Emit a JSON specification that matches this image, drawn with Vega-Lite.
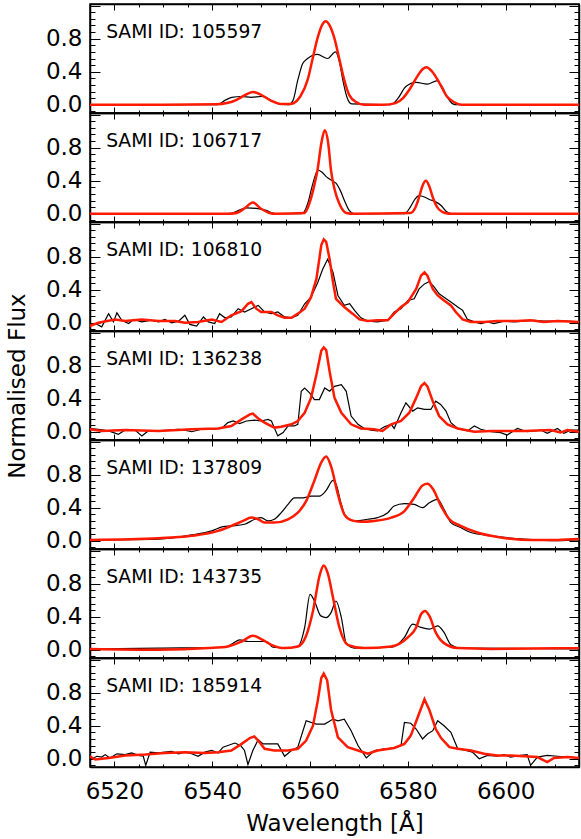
{
"$schema": "https://vega.github.io/schema/vega-lite/v6.json",
"padding": {"left": 5, "top": 2, "right": 1, "bottom": 0},
"background": "white",
"spacing": 0,
"bounds": "flush",
"config": {
 "font": "DejaVu Sans",
 "view": {"stroke": "black", "strokeWidth": 1.5},
 "concat": {"spacing": 0},
 "axis": {"labelFont": "DejaVu Sans", "labelFontSize": 23, "labelColor": "black", "tickColor": "black", "tickWidth": 1, "titleFont": "DejaVu Sans", "titleFontSize": 23, "titleFontWeight": "normal", "titleColor": "black", "grid": false, "domain": true, "domainColor": "black", "domainWidth": 1.5, "labelOverlap": false, "labelFlush": false}
},
"datasets": {
 "p1k": [{"w":6515,"v":0},{"w":6541,"v":0},{"w":6542.5,"v":0.05},{"w":6544,"v":0.09},{"w":6546,"v":0.1},{"w":6548,"v":0.09},{"w":6550,"v":0.1},{"w":6551,"v":0.09},{"w":6552,"v":0.05},{"w":6553.5,"v":0.01},{"w":6555.5,"v":0},{"w":6556.5,"v":0.05},{"w":6557.5,"v":0.3},{"w":6558.5,"v":0.5},{"w":6559.5,"v":0.56},{"w":6561.5,"v":0.61},{"w":6563.6,"v":0.56},{"w":6565.2,"v":0.64},{"w":6566,"v":0.52},{"w":6566.7,"v":0.3},{"w":6567.5,"v":0.1},{"w":6568.5,"v":0.01},{"w":6576.5,"v":0},{"w":6578,"v":0.08},{"w":6579.6,"v":0.22},{"w":6581.7,"v":0.27},{"w":6584,"v":0.25},{"w":6585.9,"v":0.29},{"w":6587,"v":0.22},{"w":6588,"v":0.1},{"w":6589.2,"v":0.01},{"w":6590,"v":0},{"w":6615,"v":0}],
 "p1r": [{"w":6515,"v":0},{"w":6530,"v":0},{"w":6541,"v":0.005},{"w":6543,"v":0.02},{"w":6545,"v":0.06},{"w":6546.5,"v":0.11},{"w":6548.3,"v":0.155},{"w":6550,"v":0.12},{"w":6552,"v":0.05},{"w":6554,"v":0.01},{"w":6556,"v":0.01},{"w":6558,"v":0.1},{"w":6559.5,"v":0.3},{"w":6560.5,"v":0.55},{"w":6561.5,"v":0.8},{"w":6562.5,"v":0.97},{"w":6563.2,"v":1.01},{"w":6564,"v":0.96},{"w":6565,"v":0.8},{"w":6566,"v":0.55},{"w":6567,"v":0.3},{"w":6568,"v":0.12},{"w":6569.5,"v":0.03},{"w":6571,"v":0},{"w":6575,"v":0},{"w":6577.5,"v":0.02},{"w":6579,"v":0.08},{"w":6580.5,"v":0.2},{"w":6582,"v":0.35},{"w":6583,"v":0.43},{"w":6583.8,"v":0.455},{"w":6585,"v":0.4},{"w":6586.5,"v":0.26},{"w":6588,"v":0.1},{"w":6589.5,"v":0.03},{"w":6591,"v":0},{"w":6615,"v":0}],
 "p2k": [{"w":6515,"v":0},{"w":6543.5,"v":0},{"w":6545,"v":0.03},{"w":6547,"v":0.07},{"w":6549,"v":0.065},{"w":6551,"v":0.04},{"w":6553,"v":0},{"w":6558.3,"v":0},{"w":6559.5,"v":0.12},{"w":6560.5,"v":0.35},{"w":6561.6,"v":0.53},{"w":6562.5,"v":0.5},{"w":6563.5,"v":0.44},{"w":6564.5,"v":0.4},{"w":6565.3,"v":0.37},{"w":6566.2,"v":0.28},{"w":6567.1,"v":0.15},{"w":6568,"v":0.04},{"w":6569,"v":0},{"w":6579.3,"v":0},{"w":6580.5,"v":0.08},{"w":6581.5,"v":0.18},{"w":6582.3,"v":0.22},{"w":6583.5,"v":0.2},{"w":6584.5,"v":0.17},{"w":6585.5,"v":0.15},{"w":6586.8,"v":0.1},{"w":6587.8,"v":0.03},{"w":6589,"v":0},{"w":6615,"v":0}],
 "p2r": [{"w":6515,"v":0},{"w":6543,"v":0},{"w":6545,"v":0.01},{"w":6546.5,"v":0.06},{"w":6548.3,"v":0.135},{"w":6550,"v":0.06},{"w":6551.7,"v":0.01},{"w":6553,"v":0},{"w":6558.9,"v":0.01},{"w":6560,"v":0.15},{"w":6561,"v":0.38},{"w":6561.5,"v":0.52},{"w":6562.3,"v":0.85},{"w":6563,"v":1.01},{"w":6563.7,"v":0.86},{"w":6564.3,"v":0.52},{"w":6565,"v":0.3},{"w":6566,"v":0.12},{"w":6567.4,"v":0.01},{"w":6569,"v":0},{"w":6580.5,"v":0.01},{"w":6581.5,"v":0.07},{"w":6582.3,"v":0.2},{"w":6583,"v":0.34},{"w":6583.7,"v":0.4},{"w":6584.4,"v":0.33},{"w":6585.1,"v":0.2},{"w":6586,"v":0.08},{"w":6587.6,"v":0.01},{"w":6589,"v":0},{"w":6615,"v":0}],
 "p3k": [{"w":6514.9,"v":-0.01},{"w":6516.1,"v":-0.01},{"w":6517.4,"v":-0.05},{"w":6518.8,"v":0.11},{"w":6519.8,"v":0.01},{"w":6520.5,"v":0.12},{"w":6521.5,"v":0.03},{"w":6522.9,"v":-0.01},{"w":6523.9,"v":0.04},{"w":6525.6,"v":0.01},{"w":6527.6,"v":0.03},{"w":6529,"v":0.01},{"w":6530.3,"v":0.04},{"w":6531.7,"v":0},{"w":6533.1,"v":0.02},{"w":6534.4,"v":0.09},{"w":6535.4,"v":-0.02},{"w":6536.8,"v":-0.04},{"w":6538.2,"v":0.07},{"w":6539.2,"v":0.01},{"w":6540.5,"v":-0.01},{"w":6541.5,"v":0.11},{"w":6542.6,"v":0.06},{"w":6543.9,"v":0.07},{"w":6545.3,"v":0.17},{"w":6546.6,"v":0.13},{"w":6548,"v":0.17},{"w":6549.4,"v":0.21},{"w":6550.7,"v":0.13},{"w":6552.1,"v":0.11},{"w":6553.4,"v":0.13},{"w":6554.8,"v":0.07},{"w":6556.2,"v":0.06},{"w":6557.5,"v":0.09},{"w":6558.9,"v":0.23},{"w":6560.2,"v":0.31},{"w":6561.6,"v":0.49},{"w":6562.6,"v":0.65},{"w":6563.6,"v":0.77},{"w":6564.7,"v":0.61},{"w":6565.7,"v":0.33},{"w":6567,"v":0.21},{"w":6568.1,"v":0.23},{"w":6569.1,"v":0.15},{"w":6570.4,"v":0.06},{"w":6571.8,"v":0.02},{"w":6573.8,"v":0.01},{"w":6575.9,"v":0.03},{"w":6577.2,"v":0.13},{"w":6578.6,"v":0.17},{"w":6580,"v":0.27},{"w":6581.3,"v":0.29},{"w":6582.3,"v":0.41},{"w":6583.4,"v":0.47},{"w":6584.4,"v":0.5},{"w":6585.4,"v":0.43},{"w":6586.4,"v":0.35},{"w":6587.4,"v":0.31},{"w":6588.8,"v":0.25},{"w":6590.2,"v":0.19},{"w":6591.2,"v":0.15},{"w":6592.2,"v":0.04},{"w":6593.6,"v":0.01},{"w":6594.9,"v":-0.01},{"w":6596.3,"v":0.01},{"w":6597.6,"v":-0.01},{"w":6599.7,"v":0.02},{"w":6601.7,"v":0.01},{"w":6603.8,"v":0.02},{"w":6605.8,"v":0.03},{"w":6607.8,"v":0.02},{"w":6610.6,"v":0.02},{"w":6612.6,"v":0.02},{"w":6615,"v":0.01}],
 "p3r": [{"w":6514.9,"v":-0.04},{"w":6516.7,"v":0},{"w":6520.1,"v":0.04},{"w":6522.2,"v":0.02},{"w":6525.6,"v":0.04},{"w":6529,"v":0.02},{"w":6532.4,"v":0.02},{"w":6534.4,"v":0},{"w":6537.1,"v":0.01},{"w":6539.9,"v":0.04},{"w":6541.9,"v":0.01},{"w":6543.9,"v":0.09},{"w":6546,"v":0.14},{"w":6547.3,"v":0.23},{"w":6548,"v":0.25},{"w":6549,"v":0.17},{"w":6550,"v":0.13},{"w":6552.1,"v":0.13},{"w":6553.4,"v":0.09},{"w":6554.8,"v":0.06},{"w":6556.2,"v":0.06},{"w":6557.5,"v":0.11},{"w":6558.9,"v":0.17},{"w":6560.2,"v":0.31},{"w":6561.3,"v":0.53},{"w":6562.3,"v":0.94},{"w":6562.8,"v":1.01},{"w":6563.3,"v":0.98},{"w":6564,"v":0.77},{"w":6564.7,"v":0.49},{"w":6565.3,"v":0.29},{"w":6567,"v":0.19},{"w":6568.7,"v":0.11},{"w":6570.1,"v":0.04},{"w":6571.8,"v":0.02},{"w":6573.8,"v":0.03},{"w":6575.9,"v":0.03},{"w":6577.2,"v":0.11},{"w":6578.6,"v":0.19},{"w":6580,"v":0.25},{"w":6581.7,"v":0.41},{"w":6582.7,"v":0.57},{"w":6583.4,"v":0.61},{"w":6584,"v":0.57},{"w":6585.1,"v":0.41},{"w":6586.1,"v":0.33},{"w":6587.4,"v":0.27},{"w":6588.8,"v":0.21},{"w":6589.8,"v":0.13},{"w":6591.2,"v":0.04},{"w":6592.9,"v":0.01},{"w":6595.6,"v":0.01},{"w":6598.3,"v":0.02},{"w":6602.4,"v":0.02},{"w":6605.1,"v":0.03},{"w":6607.8,"v":0.01},{"w":6610.6,"v":0.02},{"w":6615,"v":0.01}],
 "p4k": [{"w":6514.9,"v":0.04},{"w":6516.7,"v":0.03},{"w":6518.8,"v":0.01},{"w":6520.8,"v":-0.03},{"w":6522.2,"v":0.02},{"w":6524.2,"v":0.02},{"w":6525.6,"v":-0.05},{"w":6526.9,"v":0.01},{"w":6529,"v":0.01},{"w":6531,"v":0.02},{"w":6533.1,"v":0.03},{"w":6534.4,"v":0.02},{"w":6535.8,"v":0},{"w":6537.8,"v":0.03},{"w":6539.9,"v":0.03},{"w":6541.9,"v":0.04},{"w":6543.2,"v":0.11},{"w":6544.3,"v":0.13},{"w":6545.6,"v":0.1},{"w":6547,"v":0.13},{"w":6548.7,"v":0.14},{"w":6550,"v":0.13},{"w":6551.4,"v":0.15},{"w":6552.1,"v":0.13},{"w":6553.4,"v":-0.05},{"w":6554.5,"v":-0.01},{"w":6555.5,"v":0.07},{"w":6556.8,"v":0.07},{"w":6557.5,"v":0.09},{"w":6558.2,"v":0.49},{"w":6558.9,"v":0.53},{"w":6559.9,"v":0.47},{"w":6560.9,"v":0.39},{"w":6561.9,"v":0.39},{"w":6563,"v":0.53},{"w":6564,"v":0.49},{"w":6565,"v":0.55},{"w":6566.4,"v":0.57},{"w":6567.4,"v":0.49},{"w":6568.4,"v":0.19},{"w":6569.8,"v":0.09},{"w":6571.1,"v":0.04},{"w":6572.5,"v":0.02},{"w":6573.8,"v":0.01},{"w":6575.2,"v":0.06},{"w":6576.6,"v":0.09},{"w":6577.2,"v":0.04},{"w":6578.6,"v":0.23},{"w":6579.6,"v":0.35},{"w":6581,"v":0.25},{"w":6582,"v":0.29},{"w":6583.4,"v":0.27},{"w":6584.7,"v":0.27},{"w":6585.7,"v":0.37},{"w":6586.7,"v":0.33},{"w":6587.8,"v":0.25},{"w":6588.8,"v":0.11},{"w":6590.2,"v":0.04},{"w":6592.2,"v":0.01},{"w":6593.6,"v":0.07},{"w":6594.9,"v":0.03},{"w":6597,"v":0},{"w":6599,"v":-0.01},{"w":6600.3,"v":-0.04},{"w":6602.4,"v":0.04},{"w":6604.4,"v":0},{"w":6607.2,"v":0.02},{"w":6608.5,"v":-0.02},{"w":6610.6,"v":0.04},{"w":6611.9,"v":-0.02},{"w":6613.3,"v":0.02},{"w":6615,"v":0.02}],
 "p4r": [{"w":6514.9,"v":0.03},{"w":6517.4,"v":0.01},{"w":6522.2,"v":0.02},{"w":6529,"v":0.01},{"w":6535.8,"v":0.03},{"w":6541.2,"v":0.04},{"w":6543.9,"v":0.07},{"w":6546,"v":0.15},{"w":6547.7,"v":0.21},{"w":6548.3,"v":0.22},{"w":6549.4,"v":0.16},{"w":6550.7,"v":0.11},{"w":6552.7,"v":0.05},{"w":6554.1,"v":0.06},{"w":6556.2,"v":0.09},{"w":6557.5,"v":0.13},{"w":6558.9,"v":0.23},{"w":6560.2,"v":0.41},{"w":6561.3,"v":0.69},{"w":6562.3,"v":0.98},{"w":6562.8,"v":1.02},{"w":6563.3,"v":0.99},{"w":6564,"v":0.73},{"w":6565,"v":0.41},{"w":6566.4,"v":0.23},{"w":6568.4,"v":0.09},{"w":6570.4,"v":0.04},{"w":6573.1,"v":0.03},{"w":6574.8,"v":0.01},{"w":6576.6,"v":0.09},{"w":6578.6,"v":0.13},{"w":6580.3,"v":0.23},{"w":6581.7,"v":0.41},{"w":6582.7,"v":0.55},{"w":6583.4,"v":0.59},{"w":6584,"v":0.55},{"w":6585.1,"v":0.37},{"w":6586.4,"v":0.19},{"w":6588.1,"v":0.09},{"w":6590.2,"v":0.04},{"w":6593.6,"v":0},{"w":6597,"v":0.01},{"w":6603.8,"v":0.01},{"w":6609.2,"v":0.02},{"w":6611.2,"v":-0.01},{"w":6612.6,"v":0.02},{"w":6615,"v":0}],
 "p5k": [{"w":6515,"v":0.01},{"w":6529,"v":0.02},{"w":6535.8,"v":0.07},{"w":6539.9,"v":0.12},{"w":6542.2,"v":0.17},{"w":6543.9,"v":0.18},{"w":6546.6,"v":0.2},{"w":6548.7,"v":0.26},{"w":6550,"v":0.28},{"w":6551.4,"v":0.24},{"w":6552.7,"v":0.26},{"w":6554.1,"v":0.34},{"w":6555.5,"v":0.44},{"w":6556.8,"v":0.52},{"w":6558.5,"v":0.52},{"w":6560.2,"v":0.54},{"w":6561.9,"v":0.54},{"w":6563.3,"v":0.61},{"w":6564.7,"v":0.73},{"w":6565.3,"v":0.69},{"w":6566.4,"v":0.44},{"w":6567.4,"v":0.28},{"w":6569.1,"v":0.24},{"w":6571.8,"v":0.26},{"w":6573.8,"v":0.28},{"w":6575.9,"v":0.34},{"w":6577.2,"v":0.42},{"w":6579.3,"v":0.45},{"w":6581.3,"v":0.44},{"w":6583,"v":0.4},{"w":6584.4,"v":0.46},{"w":6586.1,"v":0.5},{"w":6587.4,"v":0.38},{"w":6588.8,"v":0.22},{"w":6590.8,"v":0.16},{"w":6592.9,"v":0.1},{"w":6597,"v":0.06},{"w":6603.8,"v":0.02},{"w":6610.6,"v":0},{"w":6615,"v":0.01}],
 "p5r": [{"w":6515,"v":0.01},{"w":6529,"v":0.03},{"w":6535.8,"v":0.06},{"w":6541.2,"v":0.12},{"w":6543.9,"v":0.18},{"w":6546.3,"v":0.24},{"w":6548,"v":0.28},{"w":6549.4,"v":0.26},{"w":6550.7,"v":0.22},{"w":6552.7,"v":0.22},{"w":6555.5,"v":0.26},{"w":6557.5,"v":0.34},{"w":6559.2,"v":0.48},{"w":6560.9,"v":0.73},{"w":6562.3,"v":0.95},{"w":6563.3,"v":1.02},{"w":6564.3,"v":0.9},{"w":6565.7,"v":0.56},{"w":6567,"v":0.32},{"w":6568.4,"v":0.25},{"w":6570.4,"v":0.23},{"w":6573.1,"v":0.24},{"w":6576.6,"v":0.28},{"w":6579.3,"v":0.36},{"w":6581.3,"v":0.52},{"w":6583,"v":0.67},{"w":6584,"v":0.69},{"w":6585.1,"v":0.63},{"w":6586.8,"v":0.42},{"w":6588.5,"v":0.26},{"w":6590.8,"v":0.18},{"w":6594.2,"v":0.1},{"w":6599,"v":0.04},{"w":6605.8,"v":0.01},{"w":6610.6,"v":0.01},{"w":6615,"v":0.02}],
 "p6k": [{"w":6515,"v":0.01},{"w":6529,"v":0.02},{"w":6542.6,"v":0.03},{"w":6544.3,"v":0.08},{"w":6545.6,"v":0.12},{"w":6547.3,"v":0.1},{"w":6549.4,"v":0.1},{"w":6551.1,"v":0.1},{"w":6552.4,"v":0.03},{"w":6554.8,"v":0.02},{"w":6557.5,"v":0.04},{"w":6558.9,"v":0.27},{"w":6560,"v":0.67},{"w":6560.9,"v":0.59},{"w":6562.2,"v":0.41},{"w":6563.3,"v":0.39},{"w":6564.3,"v":0.45},{"w":6565.3,"v":0.59},{"w":6566.4,"v":0.39},{"w":6567.4,"v":0.08},{"w":6569.1,"v":0.02},{"w":6576.6,"v":0.03},{"w":6579.3,"v":0.15},{"w":6581,"v":0.31},{"w":6582.7,"v":0.27},{"w":6584.4,"v":0.25},{"w":6586.1,"v":0.29},{"w":6587.4,"v":0.21},{"w":6588.8,"v":0.06},{"w":6590.8,"v":0.02},{"w":6615,"v":0.01}],
 "p6r": [{"w":6515,"v":0.01},{"w":6529,"v":0},{"w":6539.2,"v":0.02},{"w":6543.2,"v":0.04},{"w":6546,"v":0.1},{"w":6548.3,"v":0.17},{"w":6550,"v":0.13},{"w":6552.1,"v":0.06},{"w":6554.8,"v":0.02},{"w":6557.5,"v":0.04},{"w":6559.2,"v":0.17},{"w":6560.6,"v":0.47},{"w":6562,"v":0.91},{"w":6562.8,"v":1.02},{"w":6563.6,"v":0.93},{"w":6564.7,"v":0.63},{"w":6566,"v":0.27},{"w":6567.7,"v":0.06},{"w":6571.1,"v":0.02},{"w":6576.6,"v":0.04},{"w":6580,"v":0.15},{"w":6581.7,"v":0.27},{"w":6582.7,"v":0.43},{"w":6583.5,"v":0.47},{"w":6584.4,"v":0.41},{"w":6585.7,"v":0.21},{"w":6587.4,"v":0.08},{"w":6590.2,"v":0.02},{"w":6597,"v":0.01},{"w":6615,"v":0.02}],
 "p7k": [{"w":6514.9,"v":0.04},{"w":6515.4,"v":0},{"w":6516.4,"v":0.03},{"w":6517.4,"v":0.02},{"w":6518.1,"v":0.05},{"w":6519.1,"v":0.01},{"w":6520.5,"v":0.06},{"w":6522.2,"v":0.05},{"w":6523.5,"v":0.07},{"w":6524.9,"v":0.04},{"w":6525.9,"v":0.03},{"w":6526.4,"v":-0.08},{"w":6527.3,"v":0.08},{"w":6529,"v":0.07},{"w":6530.3,"v":0.08},{"w":6531.7,"v":0.09},{"w":6533.1,"v":0.06},{"w":6534.4,"v":0.08},{"w":6535.8,"v":0.06},{"w":6537.1,"v":0.03},{"w":6538.5,"v":0.08},{"w":6539.9,"v":0.1},{"w":6541.2,"v":0.07},{"w":6542.2,"v":0.14},{"w":6543.2,"v":0.16},{"w":6544.6,"v":0.19},{"w":6545.8,"v":0.16},{"w":6546.6,"v":0.1},{"w":6547.3,"v":-0.07},{"w":6548.3,"v":0.1},{"w":6549.4,"v":0.23},{"w":6550.4,"v":0.18},{"w":6552.1,"v":0.18},{"w":6553.4,"v":0.18},{"w":6554.8,"v":0.03},{"w":6556.2,"v":0.1},{"w":6557.5,"v":0.14},{"w":6559.2,"v":0.46},{"w":6560.2,"v":0.44},{"w":6561.3,"v":0.42},{"w":6563,"v":0.42},{"w":6564.7,"v":0.48},{"w":6565.7,"v":0.46},{"w":6567,"v":0.48},{"w":6568.4,"v":0.34},{"w":6569.8,"v":0.16},{"w":6571.5,"v":0.01},{"w":6573.2,"v":0.1},{"w":6575.2,"v":0.12},{"w":6577.2,"v":0.13},{"w":6578.6,"v":0.16},{"w":6579.3,"v":0.44},{"w":6580.6,"v":0.43},{"w":6581.7,"v":0.36},{"w":6583,"v":0.24},{"w":6584,"v":0.3},{"w":6585.1,"v":0.34},{"w":6586.1,"v":0.46},{"w":6587.4,"v":0.4},{"w":6588.8,"v":0.32},{"w":6590.2,"v":0.12},{"w":6591.9,"v":0.1},{"w":6593.2,"v":0.08},{"w":6594.6,"v":0},{"w":6596.3,"v":0.04},{"w":6598.3,"v":0.03},{"w":6599.7,"v":0.05},{"w":6601,"v":0.02},{"w":6603.1,"v":0.04},{"w":6604.4,"v":0.05},{"w":6605.1,"v":-0.08},{"w":6606.5,"v":0.02},{"w":6608.5,"v":0.04},{"w":6610.6,"v":0.03},{"w":6612.6,"v":0.02},{"w":6615,"v":0.01}],
 "p7r": [{"w":6514.9,"v":0.03},{"w":6516.1,"v":-0.01},{"w":6518.8,"v":0.01},{"w":6522.2,"v":0.04},{"w":6526.3,"v":0.05},{"w":6530.3,"v":0.07},{"w":6534.4,"v":0.08},{"w":6538.5,"v":0.07},{"w":6541.2,"v":0.08},{"w":6543.9,"v":0.1},{"w":6546,"v":0.18},{"w":6547.7,"v":0.25},{"w":6548.6,"v":0.27},{"w":6549.4,"v":0.22},{"w":6550.7,"v":0.12},{"w":6552.7,"v":0.1},{"w":6555.5,"v":0.1},{"w":6557.5,"v":0.12},{"w":6559.2,"v":0.22},{"w":6560.6,"v":0.4},{"w":6561.6,"v":0.71},{"w":6562.3,"v":0.98},{"w":6562.8,"v":1.03},{"w":6563.5,"v":0.95},{"w":6564.3,"v":0.59},{"w":6565.7,"v":0.26},{"w":6567.7,"v":0.14},{"w":6569.8,"v":0.1},{"w":6571.8,"v":0.06},{"w":6573.8,"v":0.1},{"w":6577.2,"v":0.13},{"w":6579.3,"v":0.18},{"w":6580.6,"v":0.28},{"w":6582,"v":0.5},{"w":6583.4,"v":0.72},{"w":6584.4,"v":0.59},{"w":6585.7,"v":0.36},{"w":6586.8,"v":0.25},{"w":6588.5,"v":0.14},{"w":6590.2,"v":0.12},{"w":6592.9,"v":0.1},{"w":6595.6,"v":0.06},{"w":6598.3,"v":0.04},{"w":6601,"v":0.04},{"w":6603.8,"v":0.03},{"w":6606.5,"v":0.02},{"w":6608.5,"v":-0.04},{"w":6609.9,"v":0.01},{"w":6612.6,"v":0.02},{"w":6615,"v":0.01}]
},
"vconcat": [
 {"height": 109, "width": 489, "resolve": {"axis": {"x": "independent", "y": "independent"}}, "layer": [
  {"data": {"name": "p1k"}, "mark": {"type": "line", "color": "black", "strokeWidth": 1.2, "interpolate": "monotone", "clip": true}, "encoding": {
   "x": {"field": "w", "type": "quantitative", "scale": {"domain": [6515, 6615], "nice": false, "zero": false}, "axis": {"orient": "bottom", "values": [6515,6520,6525,6530,6535,6540,6545,6550,6555,6560,6565,6570,6575,6580,6585,6590,6595,6600,6605,6610,6615], "tickSize": {"condition": {"test": "datum.value % 20 === 0", "value": -6}, "value": -3}, "labels": false, "title": null}},
   "y": {"field": "v", "type": "quantitative", "scale": {"domain": [-0.1, 1.22], "nice": false, "zero": false}, "axis": {"orient": "left", "values": [-0.08,0,0.08,0.16,0.24,0.32,0.4,0.48,0.56,0.64,0.72,0.8,0.88,0.96,1.04,1.12,1.2], "tickSize": {"condition": {"test": "abs(datum.value*2.5 - round(datum.value*2.5)) < 0.01", "value": -10}, "value": -5}, "labelExpr": "abs(datum.value*2.5 - round(datum.value*2.5)) < 0.01 && datum.value < 1 ? format(datum.value, '.1f') : ''", "labelFontSize": {"condition": {"test": "abs(datum.value*2.5 - round(datum.value*2.5)) < 0.01 && datum.value < 1", "value": 23}, "value": 1}, "labelPadding": 18, "title": null}}}},
  {"data": {"name": "p1r"}, "mark": {"type": "line", "color": "#ff1a00", "strokeWidth": 2.5, "interpolate": "monotone", "clip": true}, "encoding": {
   "x": {"field": "w", "type": "quantitative", "axis": {"orient": "top", "values": [6515,6520,6525,6530,6535,6540,6545,6550,6555,6560,6565,6570,6575,6580,6585,6590,6595,6600,6605,6610,6615], "tickSize": {"condition": {"test": "datum.value % 20 === 0", "value": -6}, "value": -3}, "labels": false, "title": null}},
   "y": {"field": "v", "type": "quantitative", "axis": {"orient": "right", "values": [-0.08,0,0.08,0.16,0.24,0.32,0.4,0.48,0.56,0.64,0.72,0.8,0.88,0.96,1.04,1.12,1.2], "tickSize": {"condition": {"test": "abs(datum.value*2.5 - round(datum.value*2.5)) < 0.01", "value": -10}, "value": -5}, "labels": false, "title": null}}}},
  {"data": {"values": [{"id": "SAMI ID: 105597"}]}, "mark": {"type": "text", "align": "left", "baseline": "middle", "fontSize": 18.7, "color": "black"}, "encoding": {"x": {"datum": 6518.3, "type": "quantitative", "axis": null}, "y": {"datum": 0.88, "type": "quantitative", "axis": null}, "text": {"field": "id"}}}
 ]},
 {"height": 109, "width": 489, "resolve": {"axis": {"x": "independent", "y": "independent"}}, "layer": [
  {"data": {"name": "p2k"}, "mark": {"type": "line", "color": "black", "strokeWidth": 1.2, "interpolate": "monotone", "clip": true}, "encoding": {
   "x": {"field": "w", "type": "quantitative", "scale": {"domain": [6515, 6615], "nice": false, "zero": false}, "axis": {"orient": "bottom", "values": [6515,6520,6525,6530,6535,6540,6545,6550,6555,6560,6565,6570,6575,6580,6585,6590,6595,6600,6605,6610,6615], "tickSize": {"condition": {"test": "datum.value % 20 === 0", "value": -6}, "value": -3}, "labels": false, "title": null}},
   "y": {"field": "v", "type": "quantitative", "scale": {"domain": [-0.1, 1.22], "nice": false, "zero": false}, "axis": {"orient": "left", "values": [-0.08,0,0.08,0.16,0.24,0.32,0.4,0.48,0.56,0.64,0.72,0.8,0.88,0.96,1.04,1.12,1.2], "tickSize": {"condition": {"test": "abs(datum.value*2.5 - round(datum.value*2.5)) < 0.01", "value": -10}, "value": -5}, "labelExpr": "abs(datum.value*2.5 - round(datum.value*2.5)) < 0.01 && datum.value < 1 ? format(datum.value, '.1f') : ''", "labelFontSize": {"condition": {"test": "abs(datum.value*2.5 - round(datum.value*2.5)) < 0.01 && datum.value < 1", "value": 23}, "value": 1}, "labelPadding": 18, "title": null}}}},
  {"data": {"name": "p2r"}, "mark": {"type": "line", "color": "#ff1a00", "strokeWidth": 2.5, "interpolate": "monotone", "clip": true}, "encoding": {
   "x": {"field": "w", "type": "quantitative", "axis": {"orient": "top", "values": [6515,6520,6525,6530,6535,6540,6545,6550,6555,6560,6565,6570,6575,6580,6585,6590,6595,6600,6605,6610,6615], "tickSize": {"condition": {"test": "datum.value % 20 === 0", "value": -6}, "value": -3}, "labels": false, "title": null}},
   "y": {"field": "v", "type": "quantitative", "axis": {"orient": "right", "values": [-0.08,0,0.08,0.16,0.24,0.32,0.4,0.48,0.56,0.64,0.72,0.8,0.88,0.96,1.04,1.12,1.2], "tickSize": {"condition": {"test": "abs(datum.value*2.5 - round(datum.value*2.5)) < 0.01", "value": -10}, "value": -5}, "labels": false, "title": null}}}},
  {"data": {"values": [{"id": "SAMI ID: 106717"}]}, "mark": {"type": "text", "align": "left", "baseline": "middle", "fontSize": 18.7, "color": "black"}, "encoding": {"x": {"datum": 6518.3, "type": "quantitative", "axis": null}, "y": {"datum": 0.88, "type": "quantitative", "axis": null}, "text": {"field": "id"}}}
 ]},
 {"height": 109, "width": 489, "resolve": {"axis": {"x": "independent", "y": "independent"}}, "layer": [
  {"data": {"name": "p3k"}, "mark": {"type": "line", "color": "black", "strokeWidth": 1.2, "clip": true}, "encoding": {
   "x": {"field": "w", "type": "quantitative", "scale": {"domain": [6515, 6615], "nice": false, "zero": false}, "axis": {"orient": "bottom", "values": [6515,6520,6525,6530,6535,6540,6545,6550,6555,6560,6565,6570,6575,6580,6585,6590,6595,6600,6605,6610,6615], "tickSize": {"condition": {"test": "datum.value % 20 === 0", "value": -6}, "value": -3}, "labels": false, "title": null}},
   "y": {"field": "v", "type": "quantitative", "scale": {"domain": [-0.1, 1.22], "nice": false, "zero": false}, "axis": {"orient": "left", "values": [-0.08,0,0.08,0.16,0.24,0.32,0.4,0.48,0.56,0.64,0.72,0.8,0.88,0.96,1.04,1.12,1.2], "tickSize": {"condition": {"test": "abs(datum.value*2.5 - round(datum.value*2.5)) < 0.01", "value": -10}, "value": -5}, "labelExpr": "abs(datum.value*2.5 - round(datum.value*2.5)) < 0.01 && datum.value < 1 ? format(datum.value, '.1f') : ''", "labelFontSize": {"condition": {"test": "abs(datum.value*2.5 - round(datum.value*2.5)) < 0.01 && datum.value < 1", "value": 23}, "value": 1}, "labelPadding": 18, "title": null}}}},
  {"data": {"name": "p3r"}, "mark": {"type": "line", "color": "#ff1a00", "strokeWidth": 2.5, "clip": true}, "encoding": {
   "x": {"field": "w", "type": "quantitative", "axis": {"orient": "top", "values": [6515,6520,6525,6530,6535,6540,6545,6550,6555,6560,6565,6570,6575,6580,6585,6590,6595,6600,6605,6610,6615], "tickSize": {"condition": {"test": "datum.value % 20 === 0", "value": -6}, "value": -3}, "labels": false, "title": null}},
   "y": {"field": "v", "type": "quantitative", "axis": {"orient": "right", "values": [-0.08,0,0.08,0.16,0.24,0.32,0.4,0.48,0.56,0.64,0.72,0.8,0.88,0.96,1.04,1.12,1.2], "tickSize": {"condition": {"test": "abs(datum.value*2.5 - round(datum.value*2.5)) < 0.01", "value": -10}, "value": -5}, "labels": false, "title": null}}}},
  {"data": {"values": [{"id": "SAMI ID: 106810"}]}, "mark": {"type": "text", "align": "left", "baseline": "middle", "fontSize": 18.7, "color": "black"}, "encoding": {"x": {"datum": 6518.3, "type": "quantitative", "axis": null}, "y": {"datum": 0.88, "type": "quantitative", "axis": null}, "text": {"field": "id"}}}
 ]},
 {"height": 109, "width": 489, "resolve": {"axis": {"x": "independent", "y": "independent"}}, "layer": [
  {"data": {"name": "p4k"}, "mark": {"type": "line", "color": "black", "strokeWidth": 1.2, "clip": true}, "encoding": {
   "x": {"field": "w", "type": "quantitative", "scale": {"domain": [6515, 6615], "nice": false, "zero": false}, "axis": {"orient": "bottom", "values": [6515,6520,6525,6530,6535,6540,6545,6550,6555,6560,6565,6570,6575,6580,6585,6590,6595,6600,6605,6610,6615], "tickSize": {"condition": {"test": "datum.value % 20 === 0", "value": -6}, "value": -3}, "labels": false, "title": null}},
   "y": {"field": "v", "type": "quantitative", "scale": {"domain": [-0.1, 1.22], "nice": false, "zero": false}, "axis": {"orient": "left", "values": [-0.08,0,0.08,0.16,0.24,0.32,0.4,0.48,0.56,0.64,0.72,0.8,0.88,0.96,1.04,1.12,1.2], "tickSize": {"condition": {"test": "abs(datum.value*2.5 - round(datum.value*2.5)) < 0.01", "value": -10}, "value": -5}, "labelExpr": "abs(datum.value*2.5 - round(datum.value*2.5)) < 0.01 && datum.value < 1 ? format(datum.value, '.1f') : ''", "labelFontSize": {"condition": {"test": "abs(datum.value*2.5 - round(datum.value*2.5)) < 0.01 && datum.value < 1", "value": 23}, "value": 1}, "labelPadding": 18, "title": "Normalised Flux", "titlePadding": 16}}}},
  {"data": {"name": "p4r"}, "mark": {"type": "line", "color": "#ff1a00", "strokeWidth": 2.5, "clip": true}, "encoding": {
   "x": {"field": "w", "type": "quantitative", "axis": {"orient": "top", "values": [6515,6520,6525,6530,6535,6540,6545,6550,6555,6560,6565,6570,6575,6580,6585,6590,6595,6600,6605,6610,6615], "tickSize": {"condition": {"test": "datum.value % 20 === 0", "value": -6}, "value": -3}, "labels": false, "title": null}},
   "y": {"field": "v", "type": "quantitative", "axis": {"orient": "right", "values": [-0.08,0,0.08,0.16,0.24,0.32,0.4,0.48,0.56,0.64,0.72,0.8,0.88,0.96,1.04,1.12,1.2], "tickSize": {"condition": {"test": "abs(datum.value*2.5 - round(datum.value*2.5)) < 0.01", "value": -10}, "value": -5}, "labels": false, "title": null}}}},
  {"data": {"values": [{"id": "SAMI ID: 136238"}]}, "mark": {"type": "text", "align": "left", "baseline": "middle", "fontSize": 18.7, "color": "black"}, "encoding": {"x": {"datum": 6518.3, "type": "quantitative", "axis": null}, "y": {"datum": 0.88, "type": "quantitative", "axis": null}, "text": {"field": "id"}}}
 ]},
 {"height": 109, "width": 489, "resolve": {"axis": {"x": "independent", "y": "independent"}}, "layer": [
  {"data": {"name": "p5k"}, "mark": {"type": "line", "color": "black", "strokeWidth": 1.2, "interpolate": "monotone", "clip": true}, "encoding": {
   "x": {"field": "w", "type": "quantitative", "scale": {"domain": [6515, 6615], "nice": false, "zero": false}, "axis": {"orient": "bottom", "values": [6515,6520,6525,6530,6535,6540,6545,6550,6555,6560,6565,6570,6575,6580,6585,6590,6595,6600,6605,6610,6615], "tickSize": {"condition": {"test": "datum.value % 20 === 0", "value": -6}, "value": -3}, "labels": false, "title": null}},
   "y": {"field": "v", "type": "quantitative", "scale": {"domain": [-0.1, 1.22], "nice": false, "zero": false}, "axis": {"orient": "left", "values": [-0.08,0,0.08,0.16,0.24,0.32,0.4,0.48,0.56,0.64,0.72,0.8,0.88,0.96,1.04,1.12,1.2], "tickSize": {"condition": {"test": "abs(datum.value*2.5 - round(datum.value*2.5)) < 0.01", "value": -10}, "value": -5}, "labelExpr": "abs(datum.value*2.5 - round(datum.value*2.5)) < 0.01 && datum.value < 1 ? format(datum.value, '.1f') : ''", "labelFontSize": {"condition": {"test": "abs(datum.value*2.5 - round(datum.value*2.5)) < 0.01 && datum.value < 1", "value": 23}, "value": 1}, "labelPadding": 18, "title": null}}}},
  {"data": {"name": "p5r"}, "mark": {"type": "line", "color": "#ff1a00", "strokeWidth": 2.5, "interpolate": "monotone", "clip": true}, "encoding": {
   "x": {"field": "w", "type": "quantitative", "axis": {"orient": "top", "values": [6515,6520,6525,6530,6535,6540,6545,6550,6555,6560,6565,6570,6575,6580,6585,6590,6595,6600,6605,6610,6615], "tickSize": {"condition": {"test": "datum.value % 20 === 0", "value": -6}, "value": -3}, "labels": false, "title": null}},
   "y": {"field": "v", "type": "quantitative", "axis": {"orient": "right", "values": [-0.08,0,0.08,0.16,0.24,0.32,0.4,0.48,0.56,0.64,0.72,0.8,0.88,0.96,1.04,1.12,1.2], "tickSize": {"condition": {"test": "abs(datum.value*2.5 - round(datum.value*2.5)) < 0.01", "value": -10}, "value": -5}, "labels": false, "title": null}}}},
  {"data": {"values": [{"id": "SAMI ID: 137809"}]}, "mark": {"type": "text", "align": "left", "baseline": "middle", "fontSize": 18.7, "color": "black"}, "encoding": {"x": {"datum": 6518.3, "type": "quantitative", "axis": null}, "y": {"datum": 0.88, "type": "quantitative", "axis": null}, "text": {"field": "id"}}}
 ]},
 {"height": 109, "width": 489, "resolve": {"axis": {"x": "independent", "y": "independent"}}, "layer": [
  {"data": {"name": "p6k"}, "mark": {"type": "line", "color": "black", "strokeWidth": 1.2, "interpolate": "monotone", "clip": true}, "encoding": {
   "x": {"field": "w", "type": "quantitative", "scale": {"domain": [6515, 6615], "nice": false, "zero": false}, "axis": {"orient": "bottom", "values": [6515,6520,6525,6530,6535,6540,6545,6550,6555,6560,6565,6570,6575,6580,6585,6590,6595,6600,6605,6610,6615], "tickSize": {"condition": {"test": "datum.value % 20 === 0", "value": -6}, "value": -3}, "labels": false, "title": null}},
   "y": {"field": "v", "type": "quantitative", "scale": {"domain": [-0.1, 1.22], "nice": false, "zero": false}, "axis": {"orient": "left", "values": [-0.08,0,0.08,0.16,0.24,0.32,0.4,0.48,0.56,0.64,0.72,0.8,0.88,0.96,1.04,1.12,1.2], "tickSize": {"condition": {"test": "abs(datum.value*2.5 - round(datum.value*2.5)) < 0.01", "value": -10}, "value": -5}, "labelExpr": "abs(datum.value*2.5 - round(datum.value*2.5)) < 0.01 && datum.value < 1 ? format(datum.value, '.1f') : ''", "labelFontSize": {"condition": {"test": "abs(datum.value*2.5 - round(datum.value*2.5)) < 0.01 && datum.value < 1", "value": 23}, "value": 1}, "labelPadding": 18, "title": null}}}},
  {"data": {"name": "p6r"}, "mark": {"type": "line", "color": "#ff1a00", "strokeWidth": 2.5, "interpolate": "monotone", "clip": true}, "encoding": {
   "x": {"field": "w", "type": "quantitative", "axis": {"orient": "top", "values": [6515,6520,6525,6530,6535,6540,6545,6550,6555,6560,6565,6570,6575,6580,6585,6590,6595,6600,6605,6610,6615], "tickSize": {"condition": {"test": "datum.value % 20 === 0", "value": -6}, "value": -3}, "labels": false, "title": null}},
   "y": {"field": "v", "type": "quantitative", "axis": {"orient": "right", "values": [-0.08,0,0.08,0.16,0.24,0.32,0.4,0.48,0.56,0.64,0.72,0.8,0.88,0.96,1.04,1.12,1.2], "tickSize": {"condition": {"test": "abs(datum.value*2.5 - round(datum.value*2.5)) < 0.01", "value": -10}, "value": -5}, "labels": false, "title": null}}}},
  {"data": {"values": [{"id": "SAMI ID: 143735"}]}, "mark": {"type": "text", "align": "left", "baseline": "middle", "fontSize": 18.7, "color": "black"}, "encoding": {"x": {"datum": 6518.3, "type": "quantitative", "axis": null}, "y": {"datum": 0.88, "type": "quantitative", "axis": null}, "text": {"field": "id"}}}
 ]},
 {"height": 109, "width": 489, "resolve": {"axis": {"x": "independent", "y": "independent"}}, "layer": [
  {"data": {"name": "p7k"}, "mark": {"type": "line", "color": "black", "strokeWidth": 1.2, "clip": true}, "encoding": {
   "x": {"field": "w", "type": "quantitative", "scale": {"domain": [6515, 6615], "nice": false, "zero": false}, "axis": {"orient": "bottom", "values": [6515,6520,6525,6530,6535,6540,6545,6550,6555,6560,6565,6570,6575,6580,6585,6590,6595,6600,6605,6610,6615], "tickSize": {"condition": {"test": "datum.value % 20 === 0", "value": -6}, "value": -3}, "labelExpr": "datum.value % 20 === 0 ? format(datum.value, 'd') : ''", "labelPadding": 19, "title": "Wavelength [Å]", "titlePadding": 6}},
   "y": {"field": "v", "type": "quantitative", "scale": {"domain": [-0.1, 1.22], "nice": false, "zero": false}, "axis": {"orient": "left", "values": [-0.08,0,0.08,0.16,0.24,0.32,0.4,0.48,0.56,0.64,0.72,0.8,0.88,0.96,1.04,1.12,1.2], "tickSize": {"condition": {"test": "abs(datum.value*2.5 - round(datum.value*2.5)) < 0.01", "value": -10}, "value": -5}, "labelExpr": "abs(datum.value*2.5 - round(datum.value*2.5)) < 0.01 && datum.value < 1 ? format(datum.value, '.1f') : ''", "labelFontSize": {"condition": {"test": "abs(datum.value*2.5 - round(datum.value*2.5)) < 0.01 && datum.value < 1", "value": 23}, "value": 1}, "labelPadding": 18, "title": null}}}},
  {"data": {"name": "p7r"}, "mark": {"type": "line", "color": "#ff1a00", "strokeWidth": 2.5, "clip": true}, "encoding": {
   "x": {"field": "w", "type": "quantitative", "axis": {"orient": "top", "values": [6515,6520,6525,6530,6535,6540,6545,6550,6555,6560,6565,6570,6575,6580,6585,6590,6595,6600,6605,6610,6615], "tickSize": {"condition": {"test": "datum.value % 20 === 0", "value": -6}, "value": -3}, "labels": false, "title": null}},
   "y": {"field": "v", "type": "quantitative", "axis": {"orient": "right", "values": [-0.08,0,0.08,0.16,0.24,0.32,0.4,0.48,0.56,0.64,0.72,0.8,0.88,0.96,1.04,1.12,1.2], "tickSize": {"condition": {"test": "abs(datum.value*2.5 - round(datum.value*2.5)) < 0.01", "value": -10}, "value": -5}, "labels": false, "title": null}}}},
  {"data": {"values": [{"id": "SAMI ID: 185914"}]}, "mark": {"type": "text", "align": "left", "baseline": "middle", "fontSize": 18.7, "color": "black"}, "encoding": {"x": {"datum": 6518.3, "type": "quantitative", "axis": null}, "y": {"datum": 0.88, "type": "quantitative", "axis": null}, "text": {"field": "id"}}}
 ]}
]
}
